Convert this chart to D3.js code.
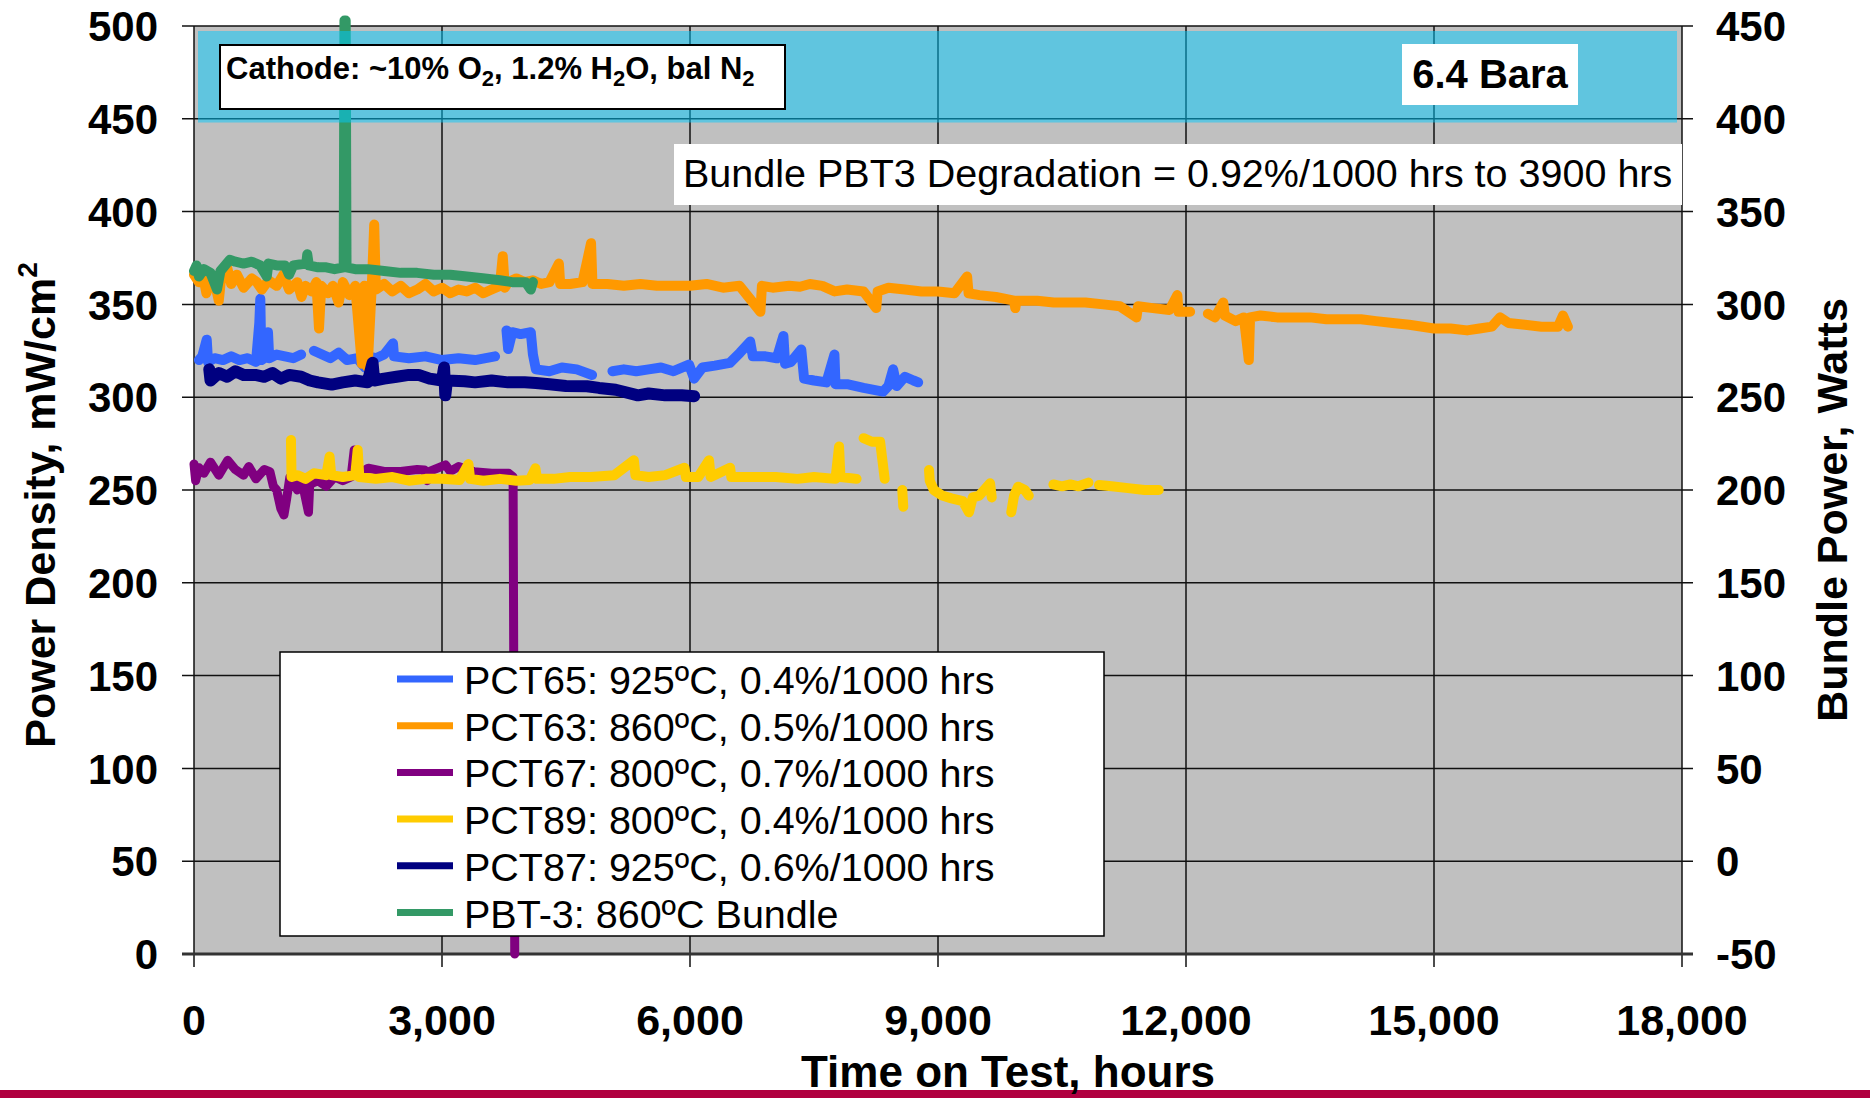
<!DOCTYPE html>
<html>
<head>
<meta charset="utf-8">
<script src="https://cdn.jsdelivr.net/npm/d3@7"></script>
<style>
  body { margin: 0; background: #fff; }
  svg text { font-family: "Liberation Sans", Arial, sans-serif; fill: #000; }
</style>
</head>
<body>
<svg id="chart" width="1870" height="1098"></svg>
<script>
// Power density vs time on test, several cells + one bundle
// D3.js v7

//--------------------------------------------------
// Data, [hours, mW/cm2], null = gap
//--------------------------------------------------
const xTicks = [0, 3000, 6000, 9000, 12000, 15000, 18000];
const yTicks = [0, 50, 100, 150, 200, 250, 300, 350, 400, 450, 500];
const y2Ticks = [-50, 0, 50, 100, 150, 200, 250, 300, 350, 400, 450];

const seriesNames = [
    "PCT65: 925ºC, 0.4%/1000 hrs",
    "PCT63: 860ºC, 0.5%/1000 hrs",
    "PCT67: 800ºC, 0.7%/1000 hrs",
    "PCT89: 800ºC, 0.4%/1000 hrs",
    "PCT87: 925ºC, 0.6%/1000 hrs",
    "PBT-3: 860ºC Bundle"
];
const seriesColors = ["#3366FF", "#FF9900", "#800080", "#FFCC00", "#000080", "#339966"];

const pct65 = [
    [60, 320], [100, 322], [154, 331], [170, 319], [250, 321], [350, 320], [450, 322], [550, 320],
    [650, 321], [750, 319], [790, 340], [802, 353], [815, 320], [880, 322], [895, 335], [910, 321],
    [1000, 323], [1100, 322], [1200, 321], [1296, 323], null,
    [1450, 325], [1550, 323], [1650, 321], [1750, 324], [1850, 320], [1975, 321], [2068, 316],
    [2100, 322], [2200, 321], [2300, 323], [2407, 329], [2420, 322], [2600, 321], [2800, 322],
    [3000, 320], [3200, 321], [3400, 320], [3642, 322], null,
    [3780, 336], [3800, 326], [3850, 335], [3950, 334], [4074, 335], [4100, 323], [4136, 315],
    [4300, 314], [4450, 316], [4630, 315], [4815, 312], null,
    [5062, 314], [5200, 315], [5350, 314], [5500, 315], [5650, 316], [5800, 314], [5988, 317.6],
    [6050, 310], [6150, 316], [6300, 317], [6482, 318.5], [6605, 324], [6728, 330], [6760, 322],
    [6914, 322], [7050, 321], [7130, 333], [7150, 318], [7222, 319], [7346, 325.7], [7380, 310],
    [7500, 309], [7650, 308], [7747, 323], [7760, 307], [7900, 307], [8100, 305], [8334, 303],
    [8400, 306], [8457, 315], [8500, 306], [8600, 311], [8704, 309], [8760, 308]
];

const pct63 = [
    [0, 366], [60, 362], [100, 368], [150, 356], [200, 364], [260, 360], [300, 352], [330, 365],
    [400, 370], [450, 361], [520, 366], [600, 359], [700, 364], [760, 362], [820, 358], [900, 363],
    [1000, 360], [1080, 366], [1150, 358], [1250, 362], [1300, 354], [1350, 360], [1420, 357],
    [1480, 362], [1512, 337], [1540, 360], [1620, 356], [1680, 360], [1750, 351], [1800, 362],
    [1880, 355], [1950, 360], [2030, 318], [2060, 360], [2100, 316], [2150, 359], [2180, 393],
    [2200, 358], [2300, 361], [2400, 357], [2500, 360], [2600, 356], [2700, 358], [2800, 361],
    [2900, 357], [3000, 359], [3100, 356], [3200, 358], [3300, 357], [3400, 359], [3500, 356],
    [3600, 358], [3700, 360], [3735, 376], [3760, 359], [3800, 362], [3900, 364], [4000, 362],
    [4100, 363], [4200, 361], [4300, 362], [4414, 372], [4430, 361], [4550, 361], [4700, 362],
    [4803, 383], [4820, 361], [4900, 361], [5000, 361], [5200, 360], [5400, 361], [5600, 360],
    [5800, 360], [6000, 360], [6200, 361], [6400, 359], [6600, 360], [6852, 346], [6870, 360],
    [7000, 359], [7200, 360], [7330, 359.5], [7450, 361], [7600, 360], [7750, 357], [7900, 358],
    [8100, 357], [8253, 348], [8270, 357], [8400, 359], [8600, 358], [8800, 357], [9000, 357],
    [9200, 356], [9352, 365], [9370, 356], [9500, 355], [9700, 354], [9920, 352], [9935, 348],
    [9950, 352], [10200, 352], [10400, 351], [10600, 351], [10784, 351], [11000, 350],
    [11200, 349], [11401, 343], [11420, 349], [11600, 348], [11800, 347], [11895, 355],
    [11910, 346], [12050, 346], null,
    [12265, 345], [12350, 343], [12451, 351], [12470, 344], [12600, 341], [12700, 343],
    [12760, 320], [12775, 343], [12900, 344], [13100, 343], [13300, 343], [13500, 343],
    [13700, 342], [13900, 342], [14117, 342], [14300, 341], [14500, 340], [14700, 339],
    [15000, 337], [15200, 337], [15400, 336], [15550, 337], [15700, 338], [15800, 343],
    [15900, 340], [16100, 339], [16300, 338], [16500, 338], [16560, 344], [16620, 338]
];

const pct67 = [
    [0, 264], [20, 255], [60, 262], [120, 259], [200, 265], [300, 258], [408, 266], [500, 261],
    [600, 258], [663, 262.6], [750, 256], [850, 261], [918, 259.9], [960, 252], [1000, 250],
    [1050, 240], [1088, 236.5], [1120, 245], [1160, 257], [1200, 255], [1250, 250], [1300, 256],
    [1385, 238], [1400, 253], [1500, 255], [1600, 252], [1700, 257], [1800, 255], [1900, 257],
    [1938, 271.6], [1960, 258], [2108, 261.7], [2300, 260], [2500, 260], [2700, 261],
    [2788, 260.8], [2820, 255], [2850, 260], [3043, 263.5], [3100, 260], [3200, 262.6],
    [3383, 259.9], [3600, 259], [3808, 259], [3860, 257], [3880, 0]
];

const pct89 = [
    [1173, 277], [1180, 257], [1250, 258], [1350, 256], [1450, 259], [1600, 258], [1640, 268],
    [1660, 258], [1800, 257], [1950, 258], [1980, 271.6], [2000, 257], [2200, 256], [2400, 257],
    [2600, 255], [2800, 256], [3000, 256], [3213, 255.4], [3320, 264], [3340, 256], [3500, 255],
    [3700, 256], [3900, 255], [4063, 255.4], [4130, 261.7], [4150, 256], [4350, 256],
    [4550, 257], [4800, 257], [5083, 258], [5321, 266], [5340, 258], [5500, 257], [5700, 258],
    [5933, 262], [5950, 257], [6100, 257], [6230, 266], [6250, 257], [6485, 262], [6500, 257],
    [6700, 257], [7038, 257], [7300, 256], [7500, 257], [7760, 256], [7803, 273.4], [7820, 257],
    [8015, 256], null,
    [8100, 277.9], [8200, 276], [8300, 276], [8355, 256], null,
    [8568, 250], [8580, 241], null,
    [8891, 260.8], [8900, 255], [8950, 250], [9050, 247], [9163, 245.5], [9300, 244],
    [9375, 238], [9420, 246], [9500, 247], [9630, 253.6], [9650, 246], null,
    [9886, 238], [9920, 247], [9970, 251.8], [10050, 250], [10098, 247], null,
    [10396, 253], [10500, 252], [10600, 253], [10700, 252], [10820, 254], null,
    [10948, 252.7], [11100, 252], [11300, 251], [11500, 250], [11670, 250]
];

const pct87 = [
    [185, 315], [200, 309], [300, 313], [400, 311], [500, 314], [600, 312], [741, 312],
    [850, 311], [950, 313], [1050, 310], [1150, 312], [1296, 311], [1400, 309], [1500, 308],
    [1667, 306.8], [1800, 308], [1950, 309], [2100, 308], [2160, 318.5], [2180, 309],
    [2300, 310], [2450, 311], [2600, 312], [2716, 312], [2850, 310], [3000, 309], [3025, 316],
    [3040, 301], [3060, 309], [3272, 308.6], [3400, 308], [3600, 309], [3800, 308], [4000, 308],
    [4136, 307.7], [4300, 307], [4500, 306], [4753, 305.9], [4900, 305], [5100, 304],
    [5370, 301], [5500, 302], [5700, 301], [5900, 301], [6050, 300.5]
];

const pbt3 = [
    [0, 368], [30, 371], [60, 365], [120, 369], [200, 367], [278, 358], [320, 368], [432, 374],
    [500, 373], [600, 372], [700, 373], [800, 371], [880, 365], [900, 372], [1000, 371],
    [1100, 371], [1150, 366], [1200, 371], [1358, 372], [1370, 377], [1390, 371], [1500, 370],
    [1600, 370], [1700, 369], [1811, 370], [1820, 503], [1835, 503], [1845, 370], [1950, 369],
    [2100, 369], [2300, 368], [2500, 367], [2700, 367], [2900, 366], [3100, 366], [3300, 365],
    [3519, 364], [3700, 363], [3850, 362], [4012, 362], [4074, 358], [4100, 362]
];

const allSeries = [pct65, pct63, pct67, pct89, pct87, pbt3];
const seriesWidths = [10, 10, 9, 10, 12, 10];

//--------------------------------------------------
// Layout
//--------------------------------------------------
const svg = d3.select("#chart");

const x = d3.scaleLinear().domain([0, 18000]).range([194, 1682]);
const y = d3.scaleLinear().domain([0, 500]).range([954, 26]);
const y2 = d3.scaleLinear().domain([-50, 450]).range([954, 26]);

// plot background
svg.append("rect")
    .attr("x", x(0))
    .attr("y", y(500))
    .attr("width", x(18000) - x(0))
    .attr("height", y(0) - y(500))
    .attr("fill", "#C0C0C0");

// grid
svg.append("g")
    .selectAll("line")
    .data(yTicks)
    .join("line")
    .attr("x1", x(0) - 12)
    .attr("x2", x(18000) + 11)
    .attr("y1", d => y(d))
    .attr("y2", d => y(d))
    .attr("stroke", "#111")
    .attr("stroke-width", 1.5);

svg.append("g")
    .selectAll("line")
    .data(xTicks)
    .join("line")
    .attr("x1", d => x(d))
    .attr("x2", d => x(d))
    .attr("y1", y(500))
    .attr("y2", y(0) + 13)
    .attr("stroke", "#111")
    .attr("stroke-width", 1.5);

// bottom axis line a bit heavier
svg.append("line")
    .attr("x1", x(0) - 12).attr("x2", x(18000) + 11)
    .attr("y1", y(0)).attr("y2", y(0))
    .attr("stroke", "#333").attr("stroke-width", 3);

//--------------------------------------------------
// Series
//--------------------------------------------------
const line = d3.line()
    .defined(d => d)
    .x(d => x(d[0]))
    .y(d => y(d[1]));

svg.append("g")
    .selectAll("path")
    .data(allSeries)
    .join("path")
    .attr("fill", "none")
    .attr("stroke", (d, i) => seriesColors[i])
    .attr("stroke-width", (d, i) => seriesWidths[i])
    .attr("stroke-linejoin", "round")
    .attr("stroke-linecap", "round")
    .attr("d", line);

// translucent cyan band over the top of the plot
svg.append("rect")
    .attr("x", x(0) + 4)
    .attr("y", y(497.3))
    .attr("width", x(18000) - x(0) - 9)
    .attr("height", y(448) - y(497.3))
    .attr("fill", "#00CAFE")
    .attr("opacity", 0.5);

//--------------------------------------------------
// Axes labels
//--------------------------------------------------
svg.append("g")
    .selectAll("text")
    .data(yTicks)
    .join("text")
    .attr("x", 158)
    .attr("y", d => y(d))
    .attr("dy", "0.36em")
    .attr("text-anchor", "end")
    .attr("font-size", 42)
    .attr("font-weight", "bold")
    .text(d => d);

svg.append("g")
    .selectAll("text")
    .data(y2Ticks)
    .join("text")
    .attr("x", 1716)
    .attr("y", d => y2(d))
    .attr("dy", "0.36em")
    .attr("font-size", 42)
    .attr("font-weight", "bold")
    .text(d => d);

svg.append("g")
    .selectAll("text")
    .data(xTicks)
    .join("text")
    .attr("x", d => x(d))
    .attr("y", 1035)
    .attr("text-anchor", "middle")
    .attr("font-size", 43)
    .attr("font-weight", "bold")
    .text(d => d3.format(",")(d));

// y title (left)
const yTitle = svg.append("text")
    .attr("transform", `translate(55,${y(250) + 15}) rotate(-90)`)
    .attr("text-anchor", "middle")
    .attr("font-size", 43)
    .attr("font-weight", "bold");
yTitle.append("tspan").text("Power Density, mW/cm");
yTitle.append("tspan").attr("dy", -18).attr("font-size", 28).text("2");

// y title (right), reads bottom to top
svg.append("text")
    .attr("transform", `translate(1847,${y(250) + 20}) rotate(-90)`)
    .attr("text-anchor", "middle")
    .attr("font-size", 43)
    .attr("font-weight", "bold")
    .text("Bundle Power, Watts");

// bottom bar + x title
svg.append("rect")
    .attr("x", 0).attr("y", 1090)
    .attr("width", 1870).attr("height", 8)
    .attr("fill", "#B00040");

svg.append("text")
    .attr("x", 1008)
    .attr("y", 1087)
    .attr("text-anchor", "middle")
    .attr("font-size", 44)
    .attr("font-weight", "bold")
    .text("Time on Test, hours");

//--------------------------------------------------
// Annotation boxes
//--------------------------------------------------
svg.append("rect")
    .attr("x", 220).attr("y", 45)
    .attr("width", 565).attr("height", 64)
    .attr("fill", "#fff").attr("stroke", "#000").attr("stroke-width", 2);

const cathode = svg.append("text")
    .attr("x", 226).attr("y", 79)
    .attr("font-size", 31)
    .attr("font-weight", "bold");
cathode.append("tspan").text("Cathode: ~10% O");
cathode.append("tspan").attr("dy", 7).attr("font-size", 22).text("2");
cathode.append("tspan").attr("dy", -7).text(", 1.2% H");
cathode.append("tspan").attr("dy", 7).attr("font-size", 22).text("2");
cathode.append("tspan").attr("dy", -7).text("O, bal N");
cathode.append("tspan").attr("dy", 7).attr("font-size", 22).text("2");

svg.append("rect")
    .attr("x", 1402).attr("y", 44)
    .attr("width", 176).attr("height", 61)
    .attr("fill", "#fff");
svg.append("text")
    .attr("x", 1490).attr("y", 88)
    .attr("text-anchor", "middle")
    .attr("font-size", 40)
    .attr("font-weight", "bold")
    .text("6.4 Bara");

svg.append("rect")
    .attr("x", 674).attr("y", 144)
    .attr("width", 1008).attr("height", 61)
    .attr("fill", "#fff");
svg.append("text")
    .attr("x", 683).attr("y", 187)
    .attr("font-size", 39.5)
    .text("Bundle PBT3 Degradation = 0.92%/1000 hrs to 3900 hrs");

//--------------------------------------------------
// Legend
//--------------------------------------------------
const legend = svg.append("g").attr("transform", "translate(280,652)");

legend.append("rect")
    .attr("width", 824).attr("height", 284)
    .attr("fill", "#fff").attr("stroke", "#000").attr("stroke-width", 1.5);

seriesNames.forEach((name, i) => {
    const cy = 27 + i * 46.7;
    legend.append("line")
        .attr("x1", 117).attr("x2", 173)
        .attr("y1", cy).attr("y2", cy)
        .attr("stroke", seriesColors[i])
        .attr("stroke-width", 7);
    legend.append("text")
        .attr("x", 184).attr("y", cy + 15)
        .attr("font-size", 39.5)
        .text(name);
});
</script>
</body>
</html>
